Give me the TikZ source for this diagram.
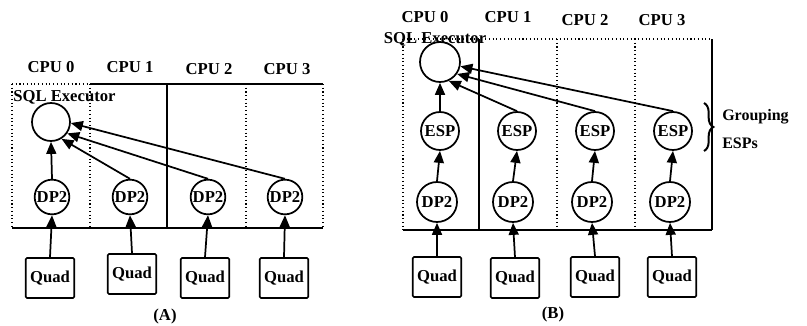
\documentclass[tikz,border=0pt]{standalone}
\usepackage{fontspec}
\setmainfont{Liberation Serif}
\usetikzlibrary{arrows.meta,decorations.pathreplacing}
\begin{document}
\begin{tikzpicture}[x=0.75pt,y=-0.75pt,
  every node/.style={font=\bfseries\fontsize{12.5}{14}\selectfont},
  proc/.style={circle,draw,line width=1.3pt,inner sep=0pt},
  quadbox/.style={draw,line width=1.3pt,rounded corners=1pt,minimum width=36.5pt,minimum height=30pt,inner sep=0pt},
  arr/.style={line width=1.3pt,-{Triangle[length=9pt,width=7.5pt]}},
  solidb/.style={line width=0.8pt},
  dotb/.style={line width=0.8pt,dotted},
  lbl/.style={inner sep=0pt}
]
\useasboundingbox (0,0) rectangle (807,325);

% ---------------- Panel A ----------------
\draw[dotb] (12,84) -- (90,84);
\draw[solidb] (90,84) -- (323,84);
\draw[solidb] (12,228) -- (323,228);
\draw[dotb] (12,84) -- (12,228);
\draw[dotb] (90,84) -- (90,228);
\draw[solidb] (167,84) -- (167,228);
\draw[dotb] (246,84) -- (246,228);
\draw[dotb] (323,84) -- (323,228);

\node[lbl] (a-c0) at (51,67) {CPU 0};
\node[lbl] (a-c1) at (130,67) {CPU 1};
\node[lbl] (a-c2) at (209,69) {CPU 2};
\node[lbl] (a-c3) at (287,69) {CPU 3};
\node[lbl,anchor=west] (a-sql) at (13,97) {SQL Executor};

\node[proc,minimum size=28.5pt] (a-ex) at (51,122) {};
\node[proc,minimum size=26pt] (a-d0) at (52,197) {DP2};
\node[proc,minimum size=26pt] (a-d1) at (130,197) {DP2};
\node[proc,minimum size=26pt] (a-d2) at (208,197) {DP2};
\node[proc,minimum size=26pt] (a-d3) at (285,197) {DP2};

\node[quadbox] (a-q0) at (50,278) {Quad};
\node[quadbox] (a-q1) at (132,274) {Quad};
\node[quadbox] (a-q2) at (205,278) {Quad};
\node[quadbox] (a-q3) at (284,278) {Quad};

\draw[arr] (a-q0.north) -- (a-d0.south);
\draw[arr] (a-q1.north) -- (a-d1.south);
\draw[arr] (a-q2.north) -- (a-d2.south);
\draw[arr] (a-q3.north) -- (a-d3.south);
\draw[arr] (a-d0.north) -- (a-ex.south);
\draw[arr] (a-d1.north) -- (a-ex.-58);
\draw[arr] (a-d2.north) -- (a-ex.-35);
\draw[arr] (a-d3.north) -- (a-ex.-3);

\node[lbl] (a-lab) at (165,316) {(A)};

% ---------------- Panel B ----------------
\draw[dotb] (403,39) -- (712,39);
\draw[solidb] (403,230) -- (712,230);
\draw[dotb] (403,39) -- (403,230);
\draw[solidb] (479,39) -- (479,230);
\draw[dotb] (557,39) -- (557,230);
\draw[dotb] (635,39) -- (635,230);
\draw[solidb] (712,39) -- (712,230);

\node[lbl] (b-c0) at (425,17) {CPU 0};
\node[lbl] (b-c1) at (508,17) {CPU 1};
\node[lbl] (b-c2) at (585,20) {CPU 2};
\node[lbl] (b-c3) at (662,20) {CPU 3};
\node[lbl] (b-sql) at (435,39) {SQL Executor};

\node[proc,minimum size=30pt] (b-ex) at (440,62) {};
\node[proc,minimum size=28.5pt] (b-e0) at (440,131) {ESP};
\node[proc,minimum size=28.5pt] (b-e1) at (517,131) {ESP};
\node[proc,minimum size=28.5pt] (b-e2) at (595,131) {ESP};
\node[proc,minimum size=28.5pt] (b-e3) at (673,131) {ESP};

\node[proc,minimum size=30pt] (b-d0) at (437,202) {DP2};
\node[proc,minimum size=30pt] (b-d1) at (513,202) {DP2};
\node[proc,minimum size=30pt] (b-d2) at (592,202) {DP2};
\node[proc,minimum size=30pt] (b-d3) at (670,202) {DP2};

\node[quadbox] (b-q0) at (437,277) {Quad};
\node[quadbox] (b-q1) at (515,278) {Quad};
\node[quadbox] (b-q2) at (595,277) {Quad};
\node[quadbox] (b-q3) at (672,277) {Quad};

\draw[arr] (b-q0.north) -- (b-d0.south);
\draw[arr] (b-q1.north) -- (b-d1.south);
\draw[arr] (b-q2.north) -- (b-d2.south);
\draw[arr] (b-q3.north) -- (b-d3.south);
\draw[arr] (b-d0.north) -- (b-e0.south);
\draw[arr] (b-d1.north) -- (b-e1.south);
\draw[arr] (b-d2.north) -- (b-e2.south);
\draw[arr] (b-d3.north) -- (b-e3.south);
\draw[arr] (b-e0.north) -- (b-ex.south);
\draw[arr] (b-e1.north) -- (b-ex.-65);
\draw[arr] (b-e2.north) -- (b-ex.-35);
\draw[arr] (b-e3.north) -- (b-ex.-12);

\coordinate (br-top) at (704,103);
\coordinate (br-bot) at (704,151);
\draw[line width=1.5pt,decorate,decoration={brace,amplitude=7pt}] (br-top) -- (br-bot);
\node[lbl,anchor=west,font=\bfseries\fontsize{12}{13}\selectfont] (b-grp) at (722,117) {Grouping};
\node[lbl,anchor=west,font=\bfseries\fontsize{12}{13}\selectfont] (b-esps) at (722,143) {ESPs};

\node[lbl] (b-lab) at (553,314) {(B)};
\end{tikzpicture}
\end{document}
